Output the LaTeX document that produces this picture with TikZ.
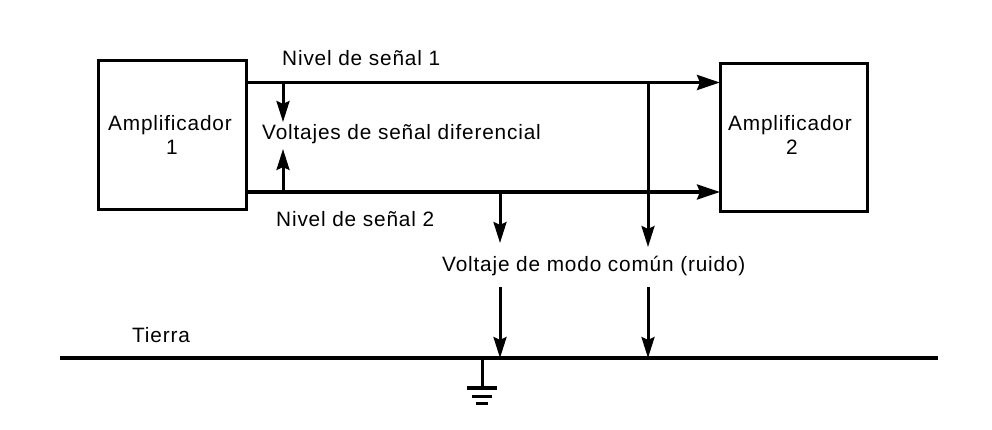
\documentclass[tikz,border=0pt]{standalone}
\usepackage{fontspec}
\setmainfont[LetterSpace=4]{Liberation Sans}
\usetikzlibrary{arrows.meta}
\begin{document}
\begin{tikzpicture}[x=1pt,y=-1pt,
  lbl/.style={anchor=base west,inner sep=0pt,font=\fontsize{20.8}{24}\selectfont,text=black},
  ampbox/.style={draw,line width=3pt,inner sep=0pt,align=center},
  wire/.style={line width=3.2pt},
  arr/.style={line width=3pt,-{Stealth[length=21pt,width=13pt,inset=3pt]}}]
\useasboundingbox (0,0) rectangle (992,430);
\node[ampbox,minimum width=148pt,minimum height=149pt] (a1) at (172,135.5) {};
\node[ampbox,minimum width=147pt,minimum height=148pt] (a2) at (793.5,138) {};
\node[lbl] (t1) at (108,131) {Amplificador};
\node[lbl] (t1b) at (166,155) {1};
\node[lbl] (t2) at (728,131) {Amplificador};
\node[lbl] (t2b) at (786,155) {2};
\node[lbl] (n1) at (282,66) {Nivel de señal 1};
\node[lbl] (vd) at (262,140) {Voltajes de señal diferencial};
\node[lbl] (n2) at (276,227) {Nivel de señal 2};
\node[lbl] (vc) at (442,271) {Voltaje de modo común (ruido)};
\node[lbl] (ti) at (132,342) {Tierra};
% signal lines
\coordinate (s1a) at (246,82.5);
\coordinate (s1b) at (720,82.5);
\coordinate (s2a) at (246,192);
\coordinate (s2b) at (720,192);
\draw[wire,-{Stealth[length=23pt,width=15pt,inset=3pt]}] (s1a) -- (s1b);
\draw[wire,-{Stealth[length=23pt,width=15pt,inset=3pt]}] (s2a) -- (s2b);
% differential arrows
\coordinate (d1) at (283,82.5);
\coordinate (d1t) at (283,122);
\coordinate (d2) at (283,192);
\coordinate (d2t) at (283,149);
\draw[arr] (d1) -- (d1t);
\draw[arr] (d2) -- (d2t);
% common mode arrows
\coordinate (c1) at (500,192);
\coordinate (c1t) at (500,243);
\coordinate (c2) at (648,82.5);
\coordinate (c2t) at (648,247);
\draw[arr] (c1) -- (c1t);
\draw[arr] (c2) -- (c2t);
\coordinate (c3) at (500,287);
\coordinate (c3t) at (500,358);
\coordinate (c4) at (648,287);
\coordinate (c4t) at (648,358);
\draw[arr] (c3) -- (c3t);
\draw[arr] (c4) -- (c4t);
% ground line
\coordinate (g1) at (60,358);
\coordinate (g2) at (938,358);
\draw[wire] (g1) -- (g2);
% ground symbol
\coordinate (gs) at (482,358);
\coordinate (gb) at (482,388);
\draw[line width=3pt] (gs) -- (gb);
\draw[line width=3.2pt] (467,388) -- (497,388);
\draw[line width=3.2pt] (472,396.5) -- (492,396.5);
\draw[line width=3.2pt] (476,403.5) -- (488,403.5);
\end{tikzpicture}
\end{document}
